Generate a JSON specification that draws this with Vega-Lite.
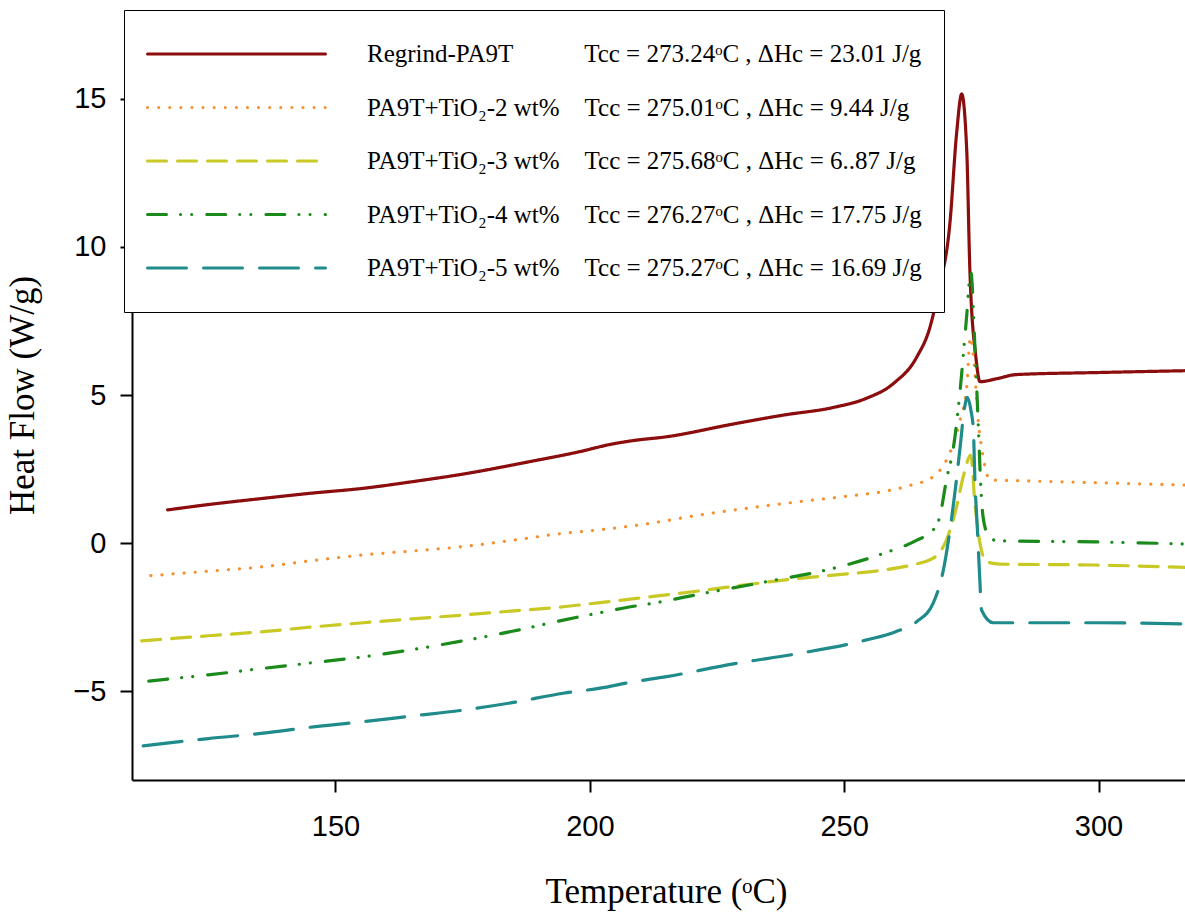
{
  "$schema": "https://vega.github.io/schema/vega-lite/v6.json",
  "autosize": "none",
  "width": 1053,
  "height": 770,
  "padding": {"left": 132, "top": 10, "right": 0, "bottom": 133},
  "background": "white",
  "config": {
    "view": {"stroke": null},
    "axis": {
      "domainColor": "black", "domainWidth": 2, "tickColor": "black", "tickWidth": 2, "tickSize": 12,
      "grid": false, "labelFont": "Liberation Sans", "labelFontSize": 29, "labelColor": "black",
      "titleFont": "Liberation Serif", "titleFontWeight": "normal", "titleFontSize": 35, "titleColor": "black"
    },
    "legend": {
      "orient": "none", "legendX": -8, "legendY": 0, "direction": "vertical",
      "strokeColor": "black", "fillColor": "white", "padding": 22,
      "symbolType": "stroke", "symbolSize": 31684, "symbolStrokeWidth": 3,
      "labelFont": "Liberation Serif", "labelFontSize": 25, "labelColor": "black", "labelLimit": 900,
      "labelOffset": 40, "rowPadding": 9.5, "clipHeight": 44
    }
  },
  "data": {"values": [
    {"series":"Regrind-PA9T","temperature":117.0,"heat_flow":1.12},
    {"series":"Regrind-PA9T","temperature":125,"heat_flow":1.30},
    {"series":"Regrind-PA9T","temperature":135.8,"heat_flow":1.51},
    {"series":"Regrind-PA9T","temperature":145,"heat_flow":1.68},
    {"series":"Regrind-PA9T","temperature":155.5,"heat_flow":1.85},
    {"series":"Regrind-PA9T","temperature":165,"heat_flow":2.07},
    {"series":"Regrind-PA9T","temperature":175.1,"heat_flow":2.33},
    {"series":"Regrind-PA9T","temperature":188.2,"heat_flow":2.75},
    {"series":"Regrind-PA9T","temperature":198.1,"heat_flow":3.09},
    {"series":"Regrind-PA9T","temperature":204,"heat_flow":3.33},
    {"series":"Regrind-PA9T","temperature":208.5,"heat_flow":3.46},
    {"series":"Regrind-PA9T","temperature":215.1,"heat_flow":3.59},
    {"series":"Regrind-PA9T","temperature":228.2,"heat_flow":4.02},
    {"series":"Regrind-PA9T","temperature":238.0,"heat_flow":4.32},
    {"series":"Regrind-PA9T","temperature":247.9,"heat_flow":4.58},
    {"series":"Regrind-PA9T","temperature":254.4,"heat_flow":4.89},
    {"series":"Regrind-PA9T","temperature":259.7,"heat_flow":5.39},
    {"series":"Regrind-PA9T","temperature":264.3,"heat_flow":6.29},
    {"series":"Regrind-PA9T","temperature":266.9,"heat_flow":7.31},
    {"series":"Regrind-PA9T","temperature":268.5,"heat_flow":8.5},
    {"series":"Regrind-PA9T","temperature":270.8,"heat_flow":10.83},
    {"series":"Regrind-PA9T","temperature":272.1,"heat_flow":13.83},
    {"series":"Regrind-PA9T","temperature":273.1,"heat_flow":15.16},
    {"series":"Regrind-PA9T","temperature":274.1,"heat_flow":13.23},
    {"series":"Regrind-PA9T","temperature":274.7,"heat_flow":9.27},
    {"series":"Regrind-PA9T","temperature":275.9,"heat_flow":6.26},
    {"series":"Regrind-PA9T","temperature":276.7,"heat_flow":5.45},
    {"series":"Regrind-PA9T","temperature":280,"heat_flow":5.55},
    {"series":"Regrind-PA9T","temperature":283.9,"heat_flow":5.69},
    {"series":"Regrind-PA9T","temperature":300.3,"heat_flow":5.76},
    {"series":"Regrind-PA9T","temperature":317,"heat_flow":5.82},

    {"series":"PA9T+TiO₂-2 wt%","temperature":113.7,"heat_flow":-1.10},
    {"series":"PA9T+TiO₂-2 wt%","temperature":125,"heat_flow":-0.95},
    {"series":"PA9T+TiO₂-2 wt%","temperature":135.8,"heat_flow":-0.80},
    {"series":"PA9T+TiO₂-2 wt%","temperature":145,"heat_flow":-0.60},
    {"series":"PA9T+TiO₂-2 wt%","temperature":155.5,"heat_flow":-0.40},
    {"series":"PA9T+TiO₂-2 wt%","temperature":165,"heat_flow":-0.27},
    {"series":"PA9T+TiO₂-2 wt%","temperature":175.1,"heat_flow":-0.12},
    {"series":"PA9T+TiO₂-2 wt%","temperature":185,"heat_flow":0.10},
    {"series":"PA9T+TiO₂-2 wt%","temperature":194.8,"heat_flow":0.33},
    {"series":"PA9T+TiO₂-2 wt%","temperature":202,"heat_flow":0.45},
    {"series":"PA9T+TiO₂-2 wt%","temperature":210,"heat_flow":0.62},
    {"series":"PA9T+TiO₂-2 wt%","temperature":221.7,"heat_flow":0.95},
    {"series":"PA9T+TiO₂-2 wt%","temperature":231,"heat_flow":1.18},
    {"series":"PA9T+TiO₂-2 wt%","temperature":241.3,"heat_flow":1.40},
    {"series":"PA9T+TiO₂-2 wt%","temperature":250,"heat_flow":1.57},
    {"series":"PA9T+TiO₂-2 wt%","temperature":257.7,"heat_flow":1.74},
    {"series":"PA9T+TiO₂-2 wt%","temperature":263,"heat_flow":1.95},
    {"series":"PA9T+TiO₂-2 wt%","temperature":267.5,"heat_flow":2.24},
    {"series":"PA9T+TiO₂-2 wt%","temperature":270.1,"heat_flow":2.80},
    {"series":"PA9T+TiO₂-2 wt%","temperature":271.5,"heat_flow":3.37},
    {"series":"PA9T+TiO₂-2 wt%","temperature":272.8,"heat_flow":4.16},
    {"series":"PA9T+TiO₂-2 wt%","temperature":274.1,"heat_flow":5.28},
    {"series":"PA9T+TiO₂-2 wt%","temperature":274.8,"heat_flow":6.95},
    {"series":"PA9T+TiO₂-2 wt%","temperature":275.4,"heat_flow":6.3},
    {"series":"PA9T+TiO₂-2 wt%","temperature":276.4,"heat_flow":4.04},
    {"series":"PA9T+TiO₂-2 wt%","temperature":277.3,"heat_flow":2.92},
    {"series":"PA9T+TiO₂-2 wt%","temperature":278.7,"heat_flow":2.13},
    {"series":"PA9T+TiO₂-2 wt%","temperature":283.4,"heat_flow":2.11},
    {"series":"PA9T+TiO₂-2 wt%","temperature":299.5,"heat_flow":2.04},
    {"series":"PA9T+TiO₂-2 wt%","temperature":317,"heat_flow":1.96},

    {"series":"PA9T+TiO₂-3 wt%","temperature":111.9,"heat_flow":-3.30},
    {"series":"PA9T+TiO₂-3 wt%","temperature":125,"heat_flow":-3.13},
    {"series":"PA9T+TiO₂-3 wt%","temperature":135.8,"heat_flow":-2.99},
    {"series":"PA9T+TiO₂-3 wt%","temperature":145,"heat_flow":-2.84},
    {"series":"PA9T+TiO₂-3 wt%","temperature":155.5,"heat_flow":-2.69},
    {"series":"PA9T+TiO₂-3 wt%","temperature":165,"heat_flow":-2.56},
    {"series":"PA9T+TiO₂-3 wt%","temperature":175.1,"heat_flow":-2.43},
    {"series":"PA9T+TiO₂-3 wt%","temperature":185,"heat_flow":-2.29},
    {"series":"PA9T+TiO₂-3 wt%","temperature":194.8,"heat_flow":-2.15},
    {"series":"PA9T+TiO₂-3 wt%","temperature":202,"heat_flow":-2.01},
    {"series":"PA9T+TiO₂-3 wt%","temperature":210,"heat_flow":-1.85},
    {"series":"PA9T+TiO₂-3 wt%","temperature":221.7,"heat_flow":-1.61},
    {"series":"PA9T+TiO₂-3 wt%","temperature":231,"heat_flow":-1.40},
    {"series":"PA9T+TiO₂-3 wt%","temperature":241.3,"heat_flow":-1.19},
    {"series":"PA9T+TiO₂-3 wt%","temperature":250,"heat_flow":-1.05},
    {"series":"PA9T+TiO₂-3 wt%","temperature":257.7,"heat_flow":-0.91},
    {"series":"PA9T+TiO₂-3 wt%","temperature":263,"heat_flow":-0.75},
    {"series":"PA9T+TiO₂-3 wt%","temperature":267.5,"heat_flow":-0.51},
    {"series":"PA9T+TiO₂-3 wt%","temperature":270.1,"heat_flow":0.10},
    {"series":"PA9T+TiO₂-3 wt%","temperature":272.1,"heat_flow":1.23},
    {"series":"PA9T+TiO₂-3 wt%","temperature":273.4,"heat_flow":2.24},
    {"series":"PA9T+TiO₂-3 wt%","temperature":274.9,"heat_flow":2.97},
    {"series":"PA9T+TiO₂-3 wt%","temperature":275.7,"heat_flow":1.34},
    {"series":"PA9T+TiO₂-3 wt%","temperature":276.7,"heat_flow":-0.01},
    {"series":"PA9T+TiO₂-3 wt%","temperature":278.0,"heat_flow":-0.63},
    {"series":"PA9T+TiO₂-3 wt%","temperature":280.6,"heat_flow":-0.71},
    {"series":"PA9T+TiO₂-3 wt%","temperature":299,"heat_flow":-0.74},
    {"series":"PA9T+TiO₂-3 wt%","temperature":317,"heat_flow":-0.82},

    {"series":"PA9T+TiO₂-4 wt%","temperature":113.3,"heat_flow":-4.66},
    {"series":"PA9T+TiO₂-4 wt%","temperature":125,"heat_flow":-4.45},
    {"series":"PA9T+TiO₂-4 wt%","temperature":135.8,"heat_flow":-4.23},
    {"series":"PA9T+TiO₂-4 wt%","temperature":145,"heat_flow":-4.05},
    {"series":"PA9T+TiO₂-4 wt%","temperature":155.5,"heat_flow":-3.84},
    {"series":"PA9T+TiO₂-4 wt%","temperature":165,"heat_flow":-3.60},
    {"series":"PA9T+TiO₂-4 wt%","temperature":175.1,"heat_flow":-3.30},
    {"series":"PA9T+TiO₂-4 wt%","temperature":185,"heat_flow":-2.97},
    {"series":"PA9T+TiO₂-4 wt%","temperature":194.8,"heat_flow":-2.60},
    {"series":"PA9T+TiO₂-4 wt%","temperature":202,"heat_flow":-2.35},
    {"series":"PA9T+TiO₂-4 wt%","temperature":208,"heat_flow":-2.15},
    {"series":"PA9T+TiO₂-4 wt%","temperature":211.8,"heat_flow":-2.05},
    {"series":"PA9T+TiO₂-4 wt%","temperature":221.7,"heat_flow":-1.72},
    {"series":"PA9T+TiO₂-4 wt%","temperature":234.8,"heat_flow":-1.30},
    {"series":"PA9T+TiO₂-4 wt%","temperature":247.9,"heat_flow":-0.85},
    {"series":"PA9T+TiO₂-4 wt%","temperature":257.7,"heat_flow":-0.35},
    {"series":"PA9T+TiO₂-4 wt%","temperature":264.3,"heat_flow":0.10},
    {"series":"PA9T+TiO₂-4 wt%","temperature":267.5,"heat_flow":0.44},
    {"series":"PA9T+TiO₂-4 wt%","temperature":268.8,"heat_flow":0.89},
    {"series":"PA9T+TiO₂-4 wt%","temperature":270.1,"heat_flow":2.13},
    {"series":"PA9T+TiO₂-4 wt%","temperature":271.5,"heat_flow":3.25},
    {"series":"PA9T+TiO₂-4 wt%","temperature":272.8,"heat_flow":5.17},
    {"series":"PA9T+TiO₂-4 wt%","temperature":274.0,"heat_flow":7.5},
    {"series":"PA9T+TiO₂-4 wt%","temperature":274.9,"heat_flow":9.15},
    {"series":"PA9T+TiO₂-4 wt%","temperature":275.7,"heat_flow":6.63},
    {"series":"PA9T+TiO₂-4 wt%","temperature":276.4,"heat_flow":3.82},
    {"series":"PA9T+TiO₂-4 wt%","temperature":276.8,"heat_flow":2.13},
    {"series":"PA9T+TiO₂-4 wt%","temperature":277.3,"heat_flow":0.89},
    {"series":"PA9T+TiO₂-4 wt%","temperature":278.3,"heat_flow":0.27},
    {"series":"PA9T+TiO₂-4 wt%","temperature":280.0,"heat_flow":0.08},
    {"series":"PA9T+TiO₂-4 wt%","temperature":299.0,"heat_flow":0.04},
    {"series":"PA9T+TiO₂-4 wt%","temperature":317,"heat_flow":-0.03},

    {"series":"PA9T+TiO₂-5 wt%","temperature":112.2,"heat_flow":-6.85},
    {"series":"PA9T+TiO₂-5 wt%","temperature":125,"heat_flow":-6.60},
    {"series":"PA9T+TiO₂-5 wt%","temperature":135.8,"heat_flow":-6.42},
    {"series":"PA9T+TiO₂-5 wt%","temperature":145,"heat_flow":-6.22},
    {"series":"PA9T+TiO₂-5 wt%","temperature":155.5,"heat_flow":-6.03},
    {"series":"PA9T+TiO₂-5 wt%","temperature":165,"heat_flow":-5.84},
    {"series":"PA9T+TiO₂-5 wt%","temperature":175.1,"heat_flow":-5.64},
    {"series":"PA9T+TiO₂-5 wt%","temperature":185,"heat_flow":-5.38},
    {"series":"PA9T+TiO₂-5 wt%","temperature":194.8,"heat_flow":-5.07},
    {"series":"PA9T+TiO₂-5 wt%","temperature":202,"heat_flow":-4.90},
    {"series":"PA9T+TiO₂-5 wt%","temperature":208,"heat_flow":-4.70},
    {"series":"PA9T+TiO₂-5 wt%","temperature":215.1,"heat_flow":-4.51},
    {"series":"PA9T+TiO₂-5 wt%","temperature":228.2,"heat_flow":-4.08},
    {"series":"PA9T+TiO₂-5 wt%","temperature":241.3,"heat_flow":-3.72},
    {"series":"PA9T+TiO₂-5 wt%","temperature":254.4,"heat_flow":-3.27},
    {"series":"PA9T+TiO₂-5 wt%","temperature":260,"heat_flow":-3.0},
    {"series":"PA9T+TiO₂-5 wt%","temperature":264.3,"heat_flow":-2.65},
    {"series":"PA9T+TiO₂-5 wt%","temperature":267.5,"heat_flow":-2.03},
    {"series":"PA9T+TiO₂-5 wt%","temperature":269.5,"heat_flow":-0.91},
    {"series":"PA9T+TiO₂-5 wt%","temperature":271.5,"heat_flow":1.34},
    {"series":"PA9T+TiO₂-5 wt%","temperature":272.8,"heat_flow":3.25},
    {"series":"PA9T+TiO₂-5 wt%","temperature":273.6,"heat_flow":4.5},
    {"series":"PA9T+TiO₂-5 wt%","temperature":274.2,"heat_flow":4.92},
    {"series":"PA9T+TiO₂-5 wt%","temperature":274.9,"heat_flow":4.5},
    {"series":"PA9T+TiO₂-5 wt%","temperature":275.4,"heat_flow":3.82},
    {"series":"PA9T+TiO₂-5 wt%","temperature":275.7,"heat_flow":2.13},
    {"series":"PA9T+TiO₂-5 wt%","temperature":276.2,"heat_flow":0.44},
    {"series":"PA9T+TiO₂-5 wt%","temperature":276.7,"heat_flow":-1.36},
    {"series":"PA9T+TiO₂-5 wt%","temperature":277.0,"heat_flow":-2.26},
    {"series":"PA9T+TiO₂-5 wt%","temperature":279.3,"heat_flow":-2.69},
    {"series":"PA9T+TiO₂-5 wt%","temperature":299.0,"heat_flow":-2.69},
    {"series":"PA9T+TiO₂-5 wt%","temperature":317,"heat_flow":-2.73}
  ]},
  "mark": {"type": "line", "strokeWidth": 3.2, "strokeCap": "round", "strokeJoin": "round", "interpolate": "monotone", "clip": true},
  "encoding": {
    "x": {
      "field": "temperature", "type": "quantitative",
      "scale": {"domain": [110, 317], "nice": false, "zero": false},
      "axis": {"values": [150, 200, 250, 300], "title": "Temperature (ᵒC)", "labelPadding": 20, "titlePadding": 33, "titleX": 534}
    },
    "y": {
      "field": "heat_flow", "type": "quantitative",
      "scale": {"domain": [-8, 18], "nice": false, "zero": false},
      "axis": {"values": [-5, 0, 5, 10, 15], "title": "Heat Flow (W/g)", "labelPadding": 14, "titlePadding": 32}
    },
    "color": {
      "field": "series", "type": "nominal", "title": null,
      "scale": {
        "domain": ["Regrind-PA9T", "PA9T+TiO₂-2 wt%", "PA9T+TiO₂-3 wt%", "PA9T+TiO₂-4 wt%", "PA9T+TiO₂-5 wt%"],
        "range": ["#8B0D0D", "#F5902F", "#C9C925", "#1A8A1A", "#1F8B8B"]
      },
      "legend": {
        "labelExpr": "{'Regrind-PA9T': 'Regrind-PA9T\u2003\u2003\u2002\u2006\u2006Tcc = 273.24ᵒC , ΔHc = 23.01 J/g', 'PA9T+TiO₂-2 wt%': 'PA9T+TiO₂-2 wt%\u2003Tcc = 275.01ᵒC , ΔHc = 9.44 J/g', 'PA9T+TiO₂-3 wt%': 'PA9T+TiO₂-3 wt%\u2003Tcc = 275.68ᵒC , ΔHc = 6..87 J/g', 'PA9T+TiO₂-4 wt%': 'PA9T+TiO₂-4 wt%\u2003Tcc = 276.27ᵒC , ΔHc = 17.75 J/g', 'PA9T+TiO₂-5 wt%': 'PA9T+TiO₂-5 wt%\u2003Tcc = 275.27ᵒC , ΔHc = 16.69 J/g'}[datum.label]",
        "encode": {"symbols": {"update": {"strokeCap": {"value": "round"}}}}
      }
    },
    "strokeDash": {
      "field": "series", "type": "nominal", "title": null,
      "scale": {
        "domain": ["Regrind-PA9T", "PA9T+TiO₂-2 wt%", "PA9T+TiO₂-3 wt%", "PA9T+TiO₂-4 wt%", "PA9T+TiO₂-5 wt%"],
        "range": [[1, 0], [0.1, 11], [19, 11], [19, 14, 0.1, 11, 0.1, 15], [39, 17]]
      }
    }
  }
}
